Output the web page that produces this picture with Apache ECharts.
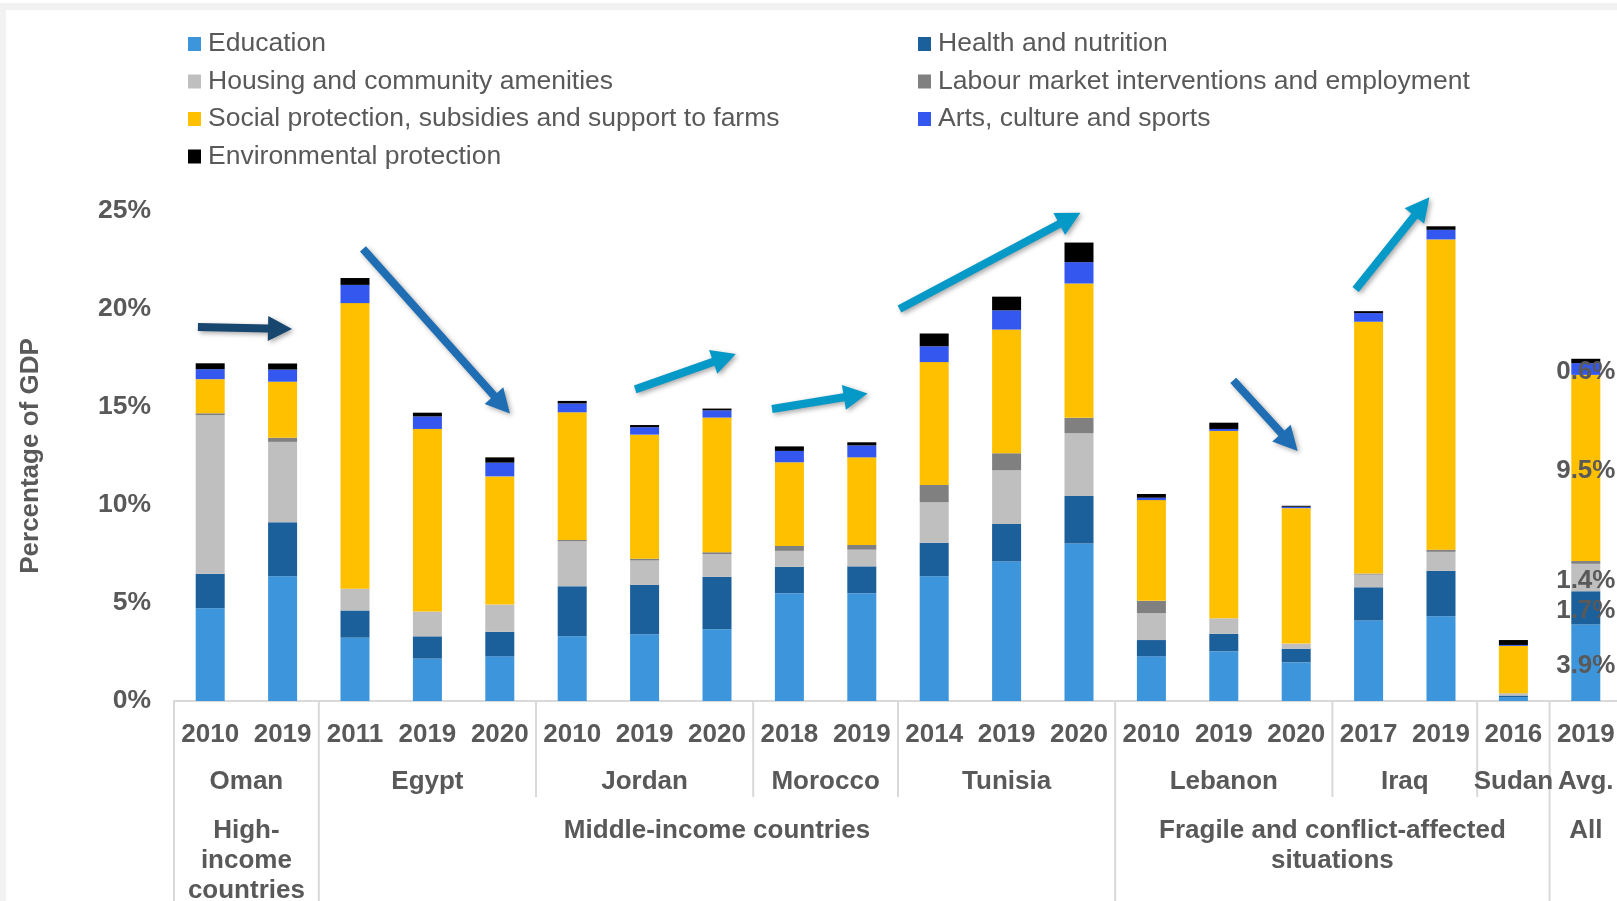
<!DOCTYPE html>
<html>
<head>
<meta charset="utf-8">
<title>Public spending by function, % of GDP</title>
<script src="https://cdn.jsdelivr.net/npm/echarts@6/dist/echarts.min.js"></script>
<style>
  html, body { margin: 0; padding: 0; background: #ffffff; }
  #chart { width: 1617px; height: 901px; }
</style>
</head>
<body>
<div id="chart"></div>
<script>
// Year of each bar (category axis labels)
const years = ['2010', '2019', '2011', '2019', '2020', '2010', '2019', '2020', '2018', '2019',
               '2014', '2019', '2020', '2010', '2019', '2020', '2017', '2019', '2016', '2019'];

// Second level: country of each block of bars, and how many bars it spans
const countries = ['Oman', 'Egypt', 'Jordan', 'Morocco', 'Tunisia', 'Lebanon', 'Iraq', 'Sudan', 'Avg.'];
const countrySpans = [2, 3, 3, 2, 3, 3, 2, 1, 1];

// Third level: income group, spanning a number of bars
const groups = ['High-\nincome\ncountries', 'Middle-income countries', 'Fragile and conflict-affected\nsituations', 'All'];
const groupSpans = [2, 11, 6, 1];

// Spending by function, % of GDP
const education     = [4.73, 6.36, 3.23, 2.16, 2.28, 3.30, 3.41, 3.66, 5.50, 5.50, 6.36, 7.12, 8.03, 2.28, 2.53, 1.97, 4.11, 4.32, 0.20, 3.9];
const health        = [1.76, 2.76, 1.39, 1.14, 1.25, 2.55, 2.51, 2.67, 1.34, 1.37, 1.71, 1.91, 2.43, 0.83, 0.90, 0.70, 1.69, 2.32, 0.08, 1.7];
const housing       = [8.10, 4.10, 1.11, 1.27, 1.39, 2.30, 1.25, 1.17, 0.82, 0.85, 2.07, 2.75, 3.21, 1.37, 0.79, 0.26, 0.65, 0.97, 0.12, 1.4];
const labour        = [0.09, 0.21, 0.00, 0.00, 0.00, 0.07, 0.09, 0.09, 0.25, 0.24, 0.88, 0.86, 0.78, 0.63, 0.00, 0.00, 0.05, 0.11, 0.00, 0.14];
const socialProt    = [1.74, 2.86, 14.57, 9.31, 6.54, 6.51, 6.33, 6.87, 4.27, 4.47, 6.27, 6.31, 6.85, 5.14, 9.56, 6.91, 12.85, 15.83, 2.41, 9.5];
const arts          = [0.51, 0.62, 0.93, 0.64, 0.70, 0.45, 0.38, 0.37, 0.58, 0.61, 0.81, 0.98, 1.09, 0.12, 0.10, 0.07, 0.44, 0.49, 0.05, 0.6];
const environment   = [0.30, 0.31, 0.35, 0.19, 0.27, 0.13, 0.11, 0.09, 0.23, 0.16, 0.65, 0.70, 1.00, 0.19, 0.32, 0.05, 0.10, 0.18, 0.25, 0.22];

// Y axis ticks
const yTicks = [0, 5, 10, 15, 20, 25];

// Trend arrows, given in axis space: [category position, % of GDP]
const trendArrows = [
  { from: [-0.17, 19.08], to: [1.13, 18.98], color: '#17466E' },
  { from: [2.11, 23.07],  to: [4.14, 14.67], color: '#1F6EB4' },
  { from: [5.87, 15.90],  to: [7.26, 17.71], color: '#0599C8' },
  { from: [7.76, 14.90],  to: [9.08, 15.69], color: '#0599C8' },
  { from: [9.52, 20.00],  to: [12.02, 24.91], color: '#0599C8' },
  { from: [14.13, 16.36], to: [15.02, 12.76], color: '#1F6EB4' },
  { from: [15.82, 20.99], to: [16.84, 25.70], color: '#0599C8' }
];

const FONT = '"Liberation Sans", Arial, Helvetica, sans-serif';
const TEXT = '#595959';
const RULE = '#D9D9D9';

const seriesDefs = [
  { name: 'Education', data: education, color: '#3D96DC', labelled: true },
  { name: 'Health and nutrition', data: health, color: '#1B5F9B', labelled: true },
  { name: 'Housing and community amenities', data: housing, color: '#BFBFBF', labelled: true },
  { name: 'Labour market interventions and employment', data: labour, color: '#808080', labelled: false },
  { name: 'Social protection, subsidies and support to farms', data: socialProt, color: '#FFC000', labelled: true },
  { name: 'Arts, culture and sports', data: arts, color: '#3457F0', labelled: true },
  { name: 'Environmental protection', data: environment, color: '#000000', labelled: false }
];

const lastIdx = years.length - 1;

const series = seriesDefs.map(d => ({
  name: d.name,
  type: 'bar',
  stack: 'total',
  barWidth: 29,
  itemStyle: { color: d.color },
  emphasis: { disabled: true },
  data: d.data.map((v, i) => (d.labelled && i === lastIdx)
    ? {
        value: v,
        label: {
          show: true,
          position: 'inside',
          offset: [0, 3],
          formatter: p => p.value.toFixed(1) + '%',
          color: TEXT,
          fontFamily: FONT,
          fontWeight: 'bold',
          fontSize: 26
        }
      }
    : v)
}));

const legendText = { color: TEXT, fontFamily: FONT, fontSize: 26.5, lineHeight: 30, padding: [0, 0, 0, 2] };

const chart = echarts.init(document.getElementById('chart'), null, { renderer: 'canvas' });

chart.setOption({
  animation: false,
  backgroundColor: '#ffffff',
  legend: [
    {
      orient: 'vertical', left: 188, top: 29, itemGap: 7.5, padding: 0,
      itemWidth: 13, itemHeight: 14, icon: 'rect', selectedMode: false,
      textStyle: legendText,
      data: ['Education', 'Housing and community amenities',
             'Social protection, subsidies and support to farms', 'Environmental protection']
    },
    {
      orient: 'vertical', left: 918, top: 29, itemGap: 7.5, padding: 0,
      itemWidth: 13, itemHeight: 14, icon: 'rect', selectedMode: false,
      textStyle: legendText,
      data: ['Health and nutrition', 'Labour market interventions and employment',
             'Arts, culture and sports']
    }
  ],
  grid: { left: 174, top: 211, width: 1448, height: 490, containLabel: false, outerBoundsMode: 'none' },
  xAxis: {
    type: 'category',
    data: years,
    axisLine: { show: true, lineStyle: { color: RULE, width: 2 } },
    axisTick: { show: false },
    axisLabel: {
      interval: 0, margin: 21,
      color: TEXT, fontFamily: FONT, fontWeight: 'bold', fontSize: 26
    }
  },
  yAxis: {
    type: 'value',
    min: yTicks[0], max: yTicks[yTicks.length - 1], interval: yTicks[1] - yTicks[0],
    name: 'Percentage of GDP',
    nameLocation: 'middle',
    nameRotate: 90,
    nameGap: 130,
    nameTextStyle: { color: TEXT, fontFamily: FONT, fontWeight: 'bold', fontSize: 26 },
    axisLine: { show: false },
    axisTick: { show: false },
    splitLine: { show: false },
    axisLabel: {
      margin: 23, formatter: '{value}%',
      color: TEXT, fontFamily: FONT, fontWeight: 'bold', fontSize: 26.5
    }
  },
  series: series
});

// Multi-level axis: separators, country names, group names and trend arrows
function xAt(pos) {
  const c0 = chart.convertToPixel({ xAxisIndex: 0 }, 0);
  const c1 = chart.convertToPixel({ xAxisIndex: 0 }, 1);
  return c0 + pos * (c1 - c0);
}
function yAt(v) {
  return chart.convertToPixel({ yAxisIndex: 0 }, v);
}

function arrowPoints(x1, y1, x2, y2, shaftHalf, headHalf, headLen) {
  const dx = x2 - x1, dy = y2 - y1, L = Math.hypot(dx, dy);
  const ux = dx / L, uy = dy / L, nx = -uy, ny = ux;
  const bx = x2 - ux * headLen, by = y2 - uy * headLen;
  return [
    [x1 + nx * shaftHalf, y1 + ny * shaftHalf],
    [bx + nx * shaftHalf, by + ny * shaftHalf],
    [bx + nx * headHalf, by + ny * headHalf],
    [x2, y2],
    [bx - nx * headHalf, by - ny * headHalf],
    [bx - nx * shaftHalf, by - ny * shaftHalf],
    [x1 - nx * shaftHalf, y1 - ny * shaftHalf]
  ];
}

const graphics = [];

// page frame strips
graphics.push({ type: 'rect', left: 0, top: 3, shape: { width: 1617, height: 7 }, style: { fill: '#F2F2F2' }, silent: true, z: 0 });
graphics.push({ type: 'rect', left: 0, top: 3, shape: { width: 6, height: 898 }, style: { fill: '#F2F2F2' }, silent: true, z: 0 });

const baseY = yAt(0);
const countryBottom = 797;
const groupBottom = 901;

// boundaries between groups reach the bottom; between countries they stop below the names
const groupStarts = new Set([0]);
{ let acc = 0; groupSpans.forEach(s => { acc += s; groupStarts.add(acc); }); }

let start = 0;
countries.forEach((name, k) => {
  const span = countrySpans[k];
  const bx = xAt(start - 0.5);
  graphics.push({
    type: 'line', silent: true, z: 1,
    shape: { x1: bx, y1: baseY, x2: bx, y2: groupStarts.has(start) ? groupBottom : countryBottom },
    style: { stroke: RULE, lineWidth: 2 }
  });
  graphics.push({
    type: 'text', silent: true, z: 5,
    style: {
      text: name, x: xAt(start + (span - 1) / 2), y: 782,
      align: 'center', verticalAlign: 'middle',
      font: 'bold 26px ' + FONT, fill: TEXT
    }
  });
  start += span;
});

start = 0;
groups.forEach((name, k) => {
  const span = groupSpans[k];
  graphics.push({
    type: 'text', silent: true, z: 5,
    style: {
      text: name, x: xAt(start + (span - 1) / 2), y: 816,
      align: 'center', verticalAlign: 'top', lineHeight: 30,
      font: 'bold 26px ' + FONT, fill: TEXT
    }
  });
  start += span;
});

trendArrows.forEach(a => {
  const pts = arrowPoints(xAt(a.from[0]), yAt(a.from[1]), xAt(a.to[0]), yAt(a.to[1]), 4, 12.5, 24);
  graphics.push({
    type: 'polygon', silent: true, z: 50,
    shape: { points: pts },
    style: {
      fill: a.color,
      shadowBlur: 5, shadowColor: 'rgba(0,0,0,0.35)', shadowOffsetX: 2, shadowOffsetY: 2
    }
  });
});

chart.setOption({ graphic: graphics });
</script>
</body>
</html>
